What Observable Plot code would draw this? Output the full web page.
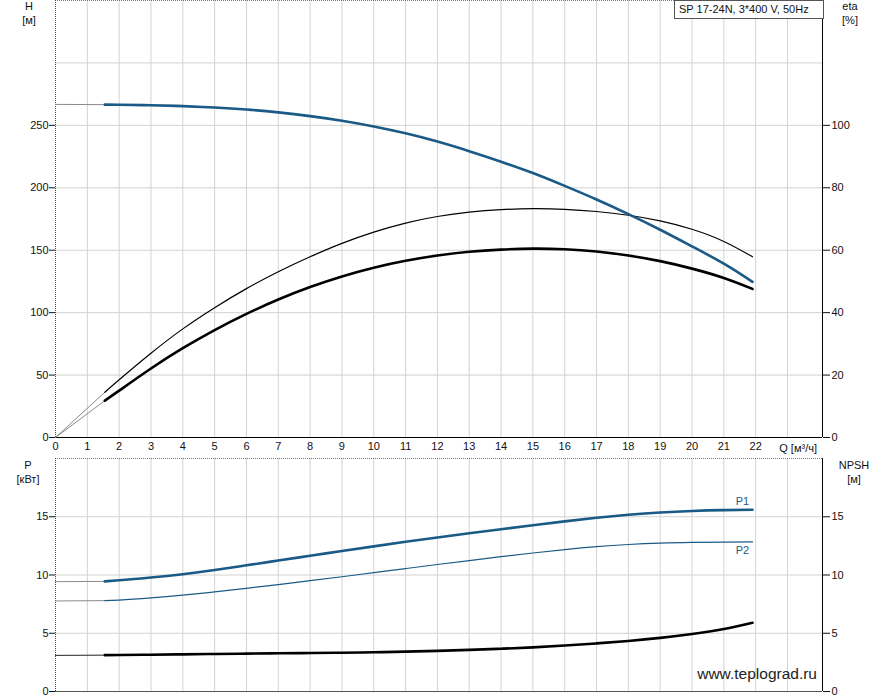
<!DOCTYPE html>
<html>
<head>
<meta charset="utf-8">
<script src="https://cdn.jsdelivr.net/npm/d3@7"></script>
<script src="https://cdn.jsdelivr.net/npm/@observablehq/plot@0.6"></script>
<style>
  body { margin: 0; background: #fff; }
  #wrap { position: relative; width: 887px; height: 700px; font-family: "Liberation Sans", Arial, sans-serif; color: #111; overflow: hidden; }
  #wrap svg { display: block; }
  .lab { position: absolute; transform: translate(-50%, -50%); font-size: 11px; white-space: nowrap; line-height: 1; }
  #title { position: absolute; left: 674px; top: 0; width: 144px; height: 17px; border: 1px solid #555; background: #fff; font-size: 11px; line-height: 17px; padding-left: 4px; white-space: nowrap; }
  #qlab { position: absolute; right: 70px; top: 448px; transform: translateY(-50%); font-size: 11px; line-height: 1; white-space: nowrap; }
  #wm { position: absolute; right: 70px; top: 674px; transform: translateY(-50%); font-size: 15.5px; line-height: 1; color: #222; white-space: nowrap; }
</style>
</head>
<body>
<div id="wrap">
  <div id="topChart"></div>
  <div id="botChart"></div>
  <div id="title">SP 17-24N, 3*400 V, 50Hz</div>
  <div class="lab" style="left:29px;top:6px">H</div>
  <div class="lab" style="left:29px;top:20px">[м]</div>
  <div class="lab" style="left:850px;top:6px">eta</div>
  <div class="lab" style="left:850px;top:20px">[%]</div>
  <div class="lab" style="left:28px;top:465px">P</div>
  <div class="lab" style="left:28px;top:479px">[кВт]</div>
  <div class="lab" style="left:854px;top:465px">NPSH</div>
  <div class="lab" style="left:854px;top:479px">[м]</div>
  <div id="qlab">Q [м³/ч]</div>
  <div id="wm">www.teplograd.ru</div>
</div>
<script>
// ---- data ----
const Q        = [1.55, 2, 3, 4, 5, 6, 7, 8, 9, 10, 11, 12, 13, 14, 15, 16, 17, 18, 19, 20, 21, 21.9];
const H        = [266.6, 266.5, 266.1, 265.4, 264.3, 262.7, 260.4, 257.4, 253.7, 249.1, 243.6, 237.0, 229.3, 220.9, 211.8, 201.5, 190.6, 178.9, 166.4, 153.1, 139.2, 124.7];
const etaPump  = [14.5, 18.5, 27.0, 34.8, 41.6, 47.7, 53.1, 57.9, 62.2, 65.8, 68.7, 70.8, 72.2, 73.0, 73.3, 73.1, 72.4, 71.2, 69.4, 66.7, 62.8, 57.9];
const etaTotal = [11.8, 15.0, 22.1, 28.6, 34.4, 39.6, 44.2, 48.2, 51.6, 54.4, 56.6, 58.3, 59.5, 60.2, 60.5, 60.3, 59.6, 58.3, 56.5, 54.1, 51.1, 47.6];
const P1       = [9.45, 9.55, 9.78, 10.07, 10.43, 10.83, 11.24, 11.65, 12.06, 12.46, 12.85, 13.22, 13.58, 13.93, 14.27, 14.6, 14.91, 15.17, 15.37, 15.5, 15.57, 15.6];
const P2       = [7.8, 7.84, 8.03, 8.27, 8.55, 8.86, 9.18, 9.51, 9.85, 10.2, 10.55, 10.9, 11.24, 11.57, 11.89, 12.18, 12.43, 12.62, 12.74, 12.8, 12.83, 12.84];
const NPSH     = [3.12, 3.13, 3.16, 3.19, 3.22, 3.25, 3.28, 3.3, 3.33, 3.37, 3.42, 3.49, 3.57, 3.67, 3.79, 3.95, 4.13, 4.34, 4.6, 4.93, 5.36, 5.9];

// extension (thin grey) segments from Q = 0 to the start of the curves
const extQ        = [0, 1.55];
const extH        = [266.8, 266.6];
const extEtaPump  = [0, 14.5];
const extEtaTotal = [0, 11.8];
const extP1       = [9.43, 9.45];
const extP2       = [7.77, 7.8];
const extNPSH     = [3.1, 3.12];

// axes / ticks
const qDomain   = [0, 24.1];
const qTicks    = d3.range(0, 23);          // 0..22 labelled
const qGrid     = d3.range(1, 24);          // 1..23 grid
const hTicks    = [0, 50, 100, 150, 200, 250];
const hGrid     = [50, 100, 150, 200, 250, 300];
const hDomain   = [0, 350];
const etaFactor = 2.5;                       // eta 100% <-> H 250 m
const pTicks    = [0, 5, 10, 15];
const pGrid     = [5, 10, 15];
const pDomain   = [0, 20];

// ---- build tables ----
const rows = Q.map((q, i) => ({q, H: H[i], etaPump: etaPump[i] * etaFactor, etaTotal: etaTotal[i] * etaFactor, P1: P1[i], P2: P2[i], NPSH: NPSH[i]}));
const ext = extQ.map((q, i) => ({q, H: extH[i], etaPump: extEtaPump[i] * etaFactor, etaTotal: extEtaTotal[i] * etaFactor, P1: extP1[i], P2: extP2[i], NPSH: extNPSH[i]}));
const last = [rows[rows.length - 1]];

const BLUE = "#1a5a86";
const GRID = "#d2d2d2";
const EXT = "#8a8a8a";
const style = {fontFamily: "'Liberation Sans', Arial, sans-serif", fontSize: "11px", color: "#111", background: "transparent", overflow: "visible"};
const curve = "natural";

const topChart = Plot.plot({
  width: 887, height: 457,
  marginLeft: 55, marginRight: 65, marginTop: 0, marginBottom: 20,
  style,
  x: {domain: qDomain},
  y: {domain: hDomain},
  marks: [
    Plot.gridX(qGrid, {stroke: GRID, strokeOpacity: 1}),
    Plot.gridY(hGrid, {stroke: GRID, strokeOpacity: 1}),
    Plot.ruleY([hDomain[1]], {stroke: "#777", strokeDasharray: "1,1"}),
    Plot.ruleX([0], {stroke: "#444", strokeDasharray: "1,1"}),
    Plot.ruleX([qDomain[1]], {stroke: "#000"}),
    Plot.ruleY([0], {stroke: "#000"}),
    Plot.axisX(qTicks, {tickSize: 0, tickPadding: 5, label: null}),
    Plot.axisY(hTicks, {anchor: "left", tickSize: 6, tickPadding: 1, label: null}),
    Plot.axisY(hTicks, {anchor: "right", tickSize: 7, tickPadding: 2, tickFormat: d => d / etaFactor, label: null}),
    Plot.line(ext, {x: "q", y: "H", stroke: EXT, strokeWidth: 1}),
    Plot.line(ext, {x: "q", y: "etaPump", stroke: EXT, strokeWidth: 1}),
    Plot.line(ext, {x: "q", y: "etaTotal", stroke: EXT, strokeWidth: 1}),
    Plot.line(rows, {x: "q", y: "etaPump", stroke: "#000", strokeWidth: 1.2, curve}),
    Plot.line(rows, {x: "q", y: "etaTotal", stroke: "#000", strokeWidth: 2.6, curve}),
    Plot.line(rows, {x: "q", y: "H", stroke: BLUE, strokeWidth: 2.6, curve})
  ]
});

const botChart = Plot.plot({
  width: 887, height: 243,
  marginLeft: 55, marginRight: 65, marginTop: 1, marginBottom: 9,
  style,
  x: {domain: qDomain, axis: null},
  y: {domain: pDomain, axis: null},
  marks: [
    Plot.gridX(qGrid, {stroke: GRID, strokeOpacity: 1}),
    Plot.gridY(pGrid, {stroke: GRID, strokeOpacity: 1}),
    Plot.ruleY([pDomain[1]], {stroke: "#777", strokeDasharray: "1,1"}),
    Plot.ruleX([0], {stroke: "#444", strokeDasharray: "1,1"}),
    Plot.ruleX([qDomain[1]], {stroke: "#000"}),
    Plot.ruleY([0], {stroke: "#555"}),
    Plot.axisY(pTicks, {anchor: "left", tickSize: 6, tickPadding: 1, label: null}),
    Plot.axisY(pTicks, {anchor: "right", tickSize: 7, tickPadding: 2, label: null}),
    Plot.line(ext, {x: "q", y: "P1", stroke: EXT, strokeWidth: 1}),
    Plot.line(ext, {x: "q", y: "P2", stroke: EXT, strokeWidth: 1}),
    Plot.line(ext, {x: "q", y: "NPSH", stroke: "#222", strokeWidth: 1}),
    Plot.line(rows, {x: "q", y: "P2", stroke: BLUE, strokeWidth: 1.2, curve}),
    Plot.line(rows, {x: "q", y: "P1", stroke: BLUE, strokeWidth: 2.6, curve}),
    Plot.line(rows, {x: "q", y: "NPSH", stroke: "#000", strokeWidth: 2.6, curve}),
    Plot.text(last, {x: "q", y: "P1", text: () => "P1", dx: -10, dy: -8, fill: BLUE, fontSize: 11}),
    Plot.text(last, {x: "q", y: "P2", text: () => "P2", dx: -10, dy: 9, fill: BLUE, fontSize: 11})
  ]
});

document.getElementById("topChart").appendChild(topChart);
document.getElementById("botChart").appendChild(botChart);
</script>
</body>
</html>
